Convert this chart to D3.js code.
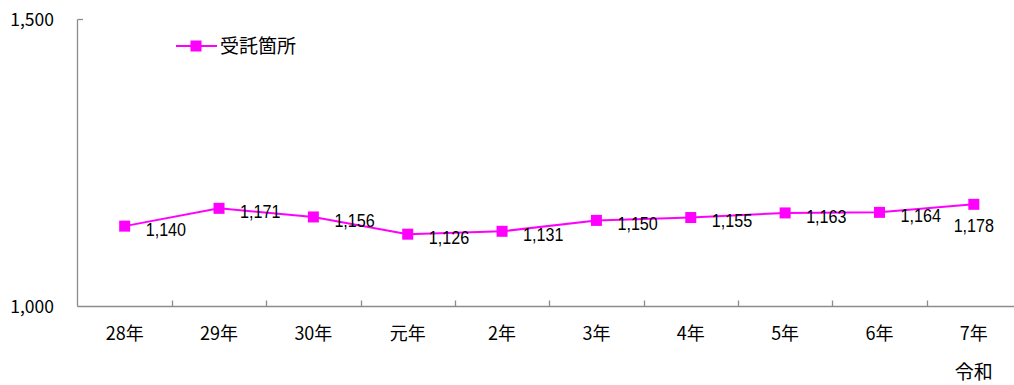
<!DOCTYPE html>
<html>
<head>
<meta charset="utf-8">
<script src="https://cdn.jsdelivr.net/npm/d3@7"></script>
<style>
  html, body { margin: 0; padding: 0; background: #fff; }
  svg { display: block; font-family: "Noto Sans CJK JP", "Noto Sans", sans-serif; }
  .vlabel { font-family: "Liberation Sans", "Noto Sans", sans-serif; }
</style>
</head>
<body>
<svg id="chart" width="1014" height="385"></svg>
<script>
// 受託箇所の推移
const categories = ["28年", "29年", "30年", "元年", "2年", "3年", "4年", "5年", "6年", "7年"];
const values = [1140, 1171, 1156, 1126, 1131, 1150, 1155, 1163, 1164, 1178];
const yTicks = [1000, 1500];
const seriesName = "受託箇所";
const eraLabel = "令和";

const svg = d3.select("#chart");
const color = "#FF00FF";
const axisColor = "#8c8c8c";

const x = d3.scaleBand().domain(categories).range([77.5, 1021]);
const y = d3.scaleLinear().domain([1000, 1500]).range([306.5, 19.5]);
const fmt = d3.format(",");

// y axis
svg.append("line")
  .attr("x1", 77.5).attr("x2", 77.5)
  .attr("y1", y(1500)).attr("y2", y(1000))
  .attr("stroke", axisColor).attr("stroke-width", 1.3);
svg.append("line")
  .attr("x1", 77.5).attr("x2", 83)
  .attr("y1", y(1500)).attr("y2", y(1500))
  .attr("stroke", axisColor).attr("stroke-width", 1.3);
svg.selectAll(".ytick")
  .data(yTicks)
  .join("text")
  .attr("x", 54).attr("y", d => y(d))
  .attr("dy", "0.35em")
  .attr("text-anchor", "end")
  .attr("font-size", 17.5)
  .attr("fill", "#000")
  .text(d => fmt(d));

// x axis
svg.append("line")
  .attr("x1", 77.5).attr("x2", 1021)
  .attr("y1", y(1000)).attr("y2", y(1000))
  .attr("stroke", axisColor).attr("stroke-width", 1.3);
svg.selectAll(".xtick")
  .data(categories.slice(1))
  .join("line")
  .attr("x1", d => Math.round(x(d)) + 0.5).attr("x2", d => Math.round(x(d)) + 0.5)
  .attr("y1", y(1000)).attr("y2", y(1000) - 6)
  .attr("stroke", axisColor).attr("stroke-width", 1.3);
svg.selectAll(".xlabel")
  .data(categories)
  .join("text")
  .attr("x", d => x(d) + x.bandwidth() / 2)
  .attr("y", 334)
  .attr("dy", "0.35em")
  .attr("text-anchor", "middle")
  .attr("font-size", 18)
  .attr("fill", "#000")
  .text(d => d);
svg.append("text")
  .attr("x", x(categories[categories.length - 1]) + x.bandwidth() / 2)
  .attr("y", 372)
  .attr("dy", "0.35em")
  .attr("text-anchor", "middle")
  .attr("font-size", 19)
  .attr("fill", "#000")
  .text(eraLabel);

// series line
const cx = d => x(d) + x.bandwidth() / 2;
const data = categories.map((c, i) => ({ c, v: values[i] }));
svg.append("path")
  .datum(data)
  .attr("fill", "none")
  .attr("stroke", color)
  .attr("stroke-width", 2)
  .attr("d", d3.line().x(d => cx(d.c)).y(d => y(d.v)));
svg.selectAll(".marker")
  .data(data)
  .join("rect")
  .attr("x", d => cx(d.c) - 5.5).attr("y", d => y(d.v) - 5.5)
  .attr("width", 11).attr("height", 11)
  .attr("fill", color);

// value labels (condensed digits)
const last = data.length - 1;
svg.selectAll(".vlabel")
  .data(data)
  .join("text")
  .attr("class", "vlabel")
  .attr("transform", (d, i) => {
    const lx = i === last ? cx(d.c) : cx(d.c) + 21;
    const ly = i === last ? y(d.v) + 21 : y(d.v) + 3;
    return `translate(${lx},${ly}) scale(0.85,1)`;
  })
  .attr("dy", "0.35em")
  .attr("text-anchor", (d, i) => i === last ? "middle" : "start")
  .attr("font-size", 19)
  .attr("fill", "#000")
  .text(d => fmt(d.v));

// legend
const lg = svg.append("g").attr("transform", "translate(176,46)");
lg.append("line").attr("x1", 0).attr("x2", 41).attr("y1", 0).attr("y2", 0)
  .attr("stroke", color).attr("stroke-width", 2);
lg.append("rect").attr("x", 14.5).attr("y", -5.5).attr("width", 11).attr("height", 11).attr("fill", color);
lg.append("text").attr("x", 44).attr("y", 0).attr("dy", "0.35em")
  .attr("font-size", 19).attr("fill", "#000").text(seriesName);
</script>
</body>
</html>
